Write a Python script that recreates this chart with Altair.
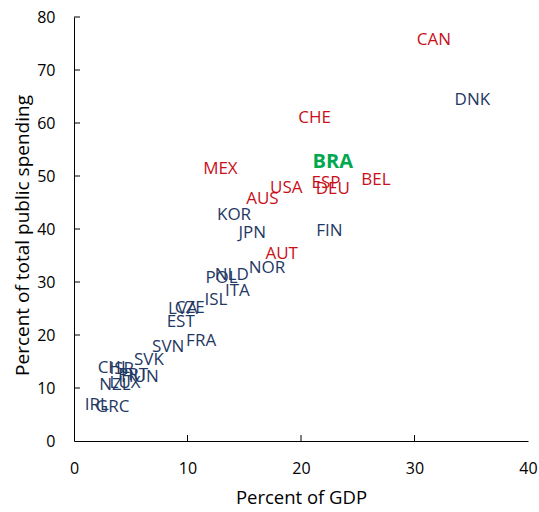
import altair as alt
import pandas as pd

countries = ["CAN", "DNK", "CHE", "BRA", "MEX", "BEL", "ESP", "USA", "DEU", "AUS",
             "KOR", "JPN", "FIN", "AUT", "NOR", "NLD", "POL", "ITA", "ISL", "CZE",
             "LVA", "EST", "FRA", "SVN", "SVK", "CHL", "ISR", "PRT", "HUN", "NZL",
             "LUX", "IRL", "GRC"]
gdp = [31.7, 35.1, 21.2, 22.8, 12.9, 26.6, 22.2, 18.7, 22.8, 16.6,
       14.1, 15.7, 22.5, 18.3, 17.0, 13.9, 13.0, 14.4, 12.5, 10.2,
       9.6, 9.4, 11.2, 8.3, 6.6, 3.5, 4.2, 5.2, 5.8, 3.6,
       4.5, 2.0, 3.4]
spending = [75.7, 64.3, 60.9, 52.6, 51.3, 49.2, 48.7, 47.7, 47.5, 45.7,
            42.6, 39.2, 39.6, 35.3, 32.6, 31.3, 30.8, 28.3, 26.6, 25.1,
            25.0, 22.5, 18.9, 17.7, 15.3, 13.8, 13.5, 12.5, 12.0, 10.6,
            11.0, 6.8, 6.4]
group = ["red", "blue", "red", "bra", "red", "red", "red", "red", "red", "red",
         "blue", "blue", "blue", "red", "blue", "blue", "blue", "blue", "blue", "blue",
         "blue", "blue", "blue", "blue", "blue", "blue", "blue", "blue", "blue", "blue",
         "blue", "blue", "blue"]
xticks = [0, 10, 20, 30, 40]
yticks = [0, 10, 20, 30, 40, 50, 60, 70, 80]

df = pd.DataFrame({"country": countries, "gdp": gdp, "spending": spending, "group": group})
df_main = df[df.group != "bra"]
df_bra = df[df.group == "bra"]

FONT = "Open Sans"
xs = alt.Scale(domain=[0, 40], nice=False)
ys = alt.Scale(domain=[0, 80], nice=False)

xaxis = alt.Axis(values=xticks, tickSize=0, labelPadding=19, grid=False,
                 title="Percent of GDP", titlePadding=12, labelFontSize=16,
                 titleFontSize=18.5, labelColor="#000", titleColor="#000",
                 labelFont=FONT, titleFont=FONT, titleFontWeight="normal",
                 domainColor="#000", labelFlush=False)
yaxis = alt.Axis(values=yticks, tickSize=0, labelPadding=19, grid=False,
                 title="Percent of total public spending", titlePadding=4,
                 titleY=218, titleAlign="center",
                 labelFontSize=16, titleFontSize=19, labelColor="#000", titleColor="#000",
                 labelFont=FONT, titleFont=FONT, titleFontWeight="normal",
                 domainColor="#000", labelFlush=False)

labels = alt.Chart(df_main).mark_text(fontSize=17, font=FONT).encode(
    x=alt.X("gdp:Q", scale=xs, axis=xaxis),
    y=alt.Y("spending:Q", scale=ys, axis=yaxis),
    text="country:N",
    color=alt.Color("group:N", scale=alt.Scale(domain=["red", "blue"],
                                               range=["#c8101b", "#1f3864"]), legend=None),
)

bra = alt.Chart(df_bra).mark_text(fontSize=20, font=FONT, fontWeight="bold",
                                  color="#00a850").encode(
    x=alt.X("gdp:Q", scale=xs),
    y=alt.Y("spending:Q", scale=ys),
    text="country:N",
)

xt = alt.Chart(pd.DataFrame({"v": xticks[1:-1]})).mark_rule(color="#000", strokeWidth=1).encode(
    x=alt.X("v:Q", scale=xs), y=alt.value(424), y2=alt.value(418))
yt = alt.Chart(pd.DataFrame({"v": yticks[1:]})).mark_rule(color="#000", strokeWidth=1).encode(
    y=alt.Y("v:Q", scale=ys), x=alt.value(0), x2=alt.value(6))

chart = alt.layer(xt, yt, labels, bra).properties(
    width=454, height=424,
    autosize=alt.AutoSizeParams(type="none"),
    padding={"left": 74, "top": 17, "right": 11, "bottom": 71},
    background="white",
).configure_view(stroke=None)

chart.save("out.html", embed_options={"renderer": "svg", "actions": False})
